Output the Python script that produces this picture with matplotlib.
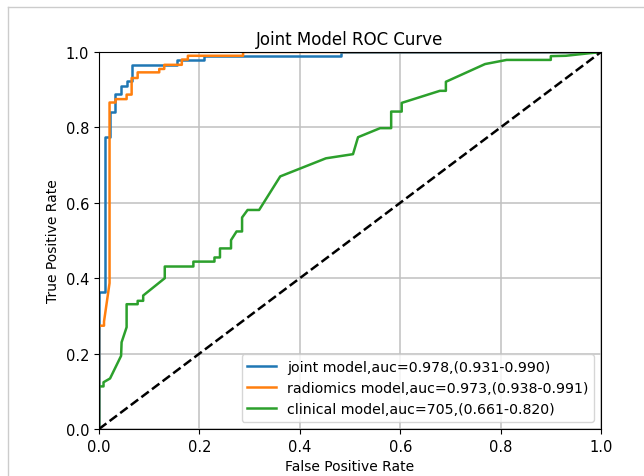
import numpy as np
import matplotlib
matplotlib.use('Agg')
import matplotlib.pyplot as plt
from matplotlib.lines import Line2D

# ROC points (fpr, tpr)
joint_fpr = [0.0, 0.0, 0.002, 0.011, 0.011, 0.021, 0.021, 0.032, 0.032, 0.044, 0.044,
             0.055, 0.055, 0.065, 0.065, 0.155, 0.155, 0.21, 0.21, 0.483, 0.483, 1.0]
joint_tpr = [0.0, 0.363, 0.363, 0.363, 0.774, 0.774, 0.842, 0.842, 0.889, 0.889, 0.909,
             0.909, 0.922, 0.922, 0.966, 0.966, 0.979, 0.979, 0.990, 0.990, 1.0, 1.0]

radio_fpr = [0.0, 0.0, 0.01, 0.01, 0.021, 0.021, 0.033, 0.033, 0.055, 0.055, 0.065,
             0.065, 0.077, 0.077, 0.12, 0.12, 0.13, 0.13, 0.165, 0.165, 0.177, 0.177,
             0.287, 0.287, 1.0]
radio_tpr = [0.0, 0.274, 0.274, 0.285, 0.387, 0.866, 0.866, 0.875, 0.875, 0.887, 0.887,
             0.931, 0.931, 0.946, 0.946, 0.955, 0.955, 0.966, 0.966, 0.980, 0.980, 0.990,
             0.990, 1.0, 1.0]

clin_fpr = [0.0, 0.0, 0.009, 0.009, 0.022, 0.044, 0.045, 0.055, 0.055, 0.077, 0.077,
            0.088, 0.088, 0.131, 0.131, 0.188, 0.188, 0.230, 0.230, 0.241, 0.241, 0.263,
            0.263, 0.274, 0.285, 0.285, 0.296, 0.319, 0.361, 0.452, 0.506, 0.516, 0.560,
            0.582, 0.582, 0.603, 0.603, 0.679, 0.691, 0.691, 0.769, 0.812, 0.900, 0.900,
            0.93, 1.0]
clin_tpr = [0.0, 0.113, 0.113, 0.124, 0.134, 0.194, 0.230, 0.270, 0.331, 0.331, 0.340,
            0.340, 0.354, 0.400, 0.431, 0.431, 0.444, 0.444, 0.455, 0.455, 0.479, 0.479,
            0.501, 0.524, 0.524, 0.561, 0.581, 0.581, 0.670, 0.718, 0.729, 0.774, 0.798,
            0.798, 0.842, 0.842, 0.865, 0.897, 0.897, 0.921, 0.968, 0.979, 0.979, 0.989,
            0.990, 1.0]

labels = ['joint model,auc=0.978,(0.931-0.990)',
          'radiomics model,auc=0.973,(0.938-0.991)',
          'clinical model,auc=705,(0.661-0.820)']

fig = plt.figure(figsize=(6.44, 4.77), dpi=100)
ax = fig.add_axes([99 / 644, 1 - 430 / 477, 502 / 644, 377 / 477])

ax.plot(joint_fpr, joint_tpr, color='C0', lw=1.8, label=labels[0])
ax.plot(radio_fpr, radio_tpr, color='C1', lw=1.8, label=labels[1])
ax.plot(clin_fpr, clin_tpr, color='C2', lw=1.8, label=labels[2])
ax.plot([0, 1], [0, 1], color='black', lw=1.8, ls='--')

ax.set_xlim(0, 1)
ax.set_ylim(0, 1)
ax.grid(True, color='#c0c0c0', lw=1.1)
ax.tick_params(labelsize=10.5)
ax.set_xlabel('False Positive Rate', fontsize=10)
ax.set_ylabel('True Positive Rate', fontsize=10)
ax.set_title('Joint Model ROC Curve', fontsize=12)
ax.legend(loc='lower right', fontsize=10.2)

# thin grey frame from the screenshot
fig.add_artist(Line2D([8 / 644, 1], [1 - 8 / 477, 1 - 8 / 477],
                      transform=fig.transFigure, color='#cccccc', lw=1))
fig.add_artist(Line2D([8 / 644, 8 / 644], [0, 1 - 8 / 477],
                      transform=fig.transFigure, color='#cccccc', lw=1))

fig.savefig('out.png', dpi=100)
